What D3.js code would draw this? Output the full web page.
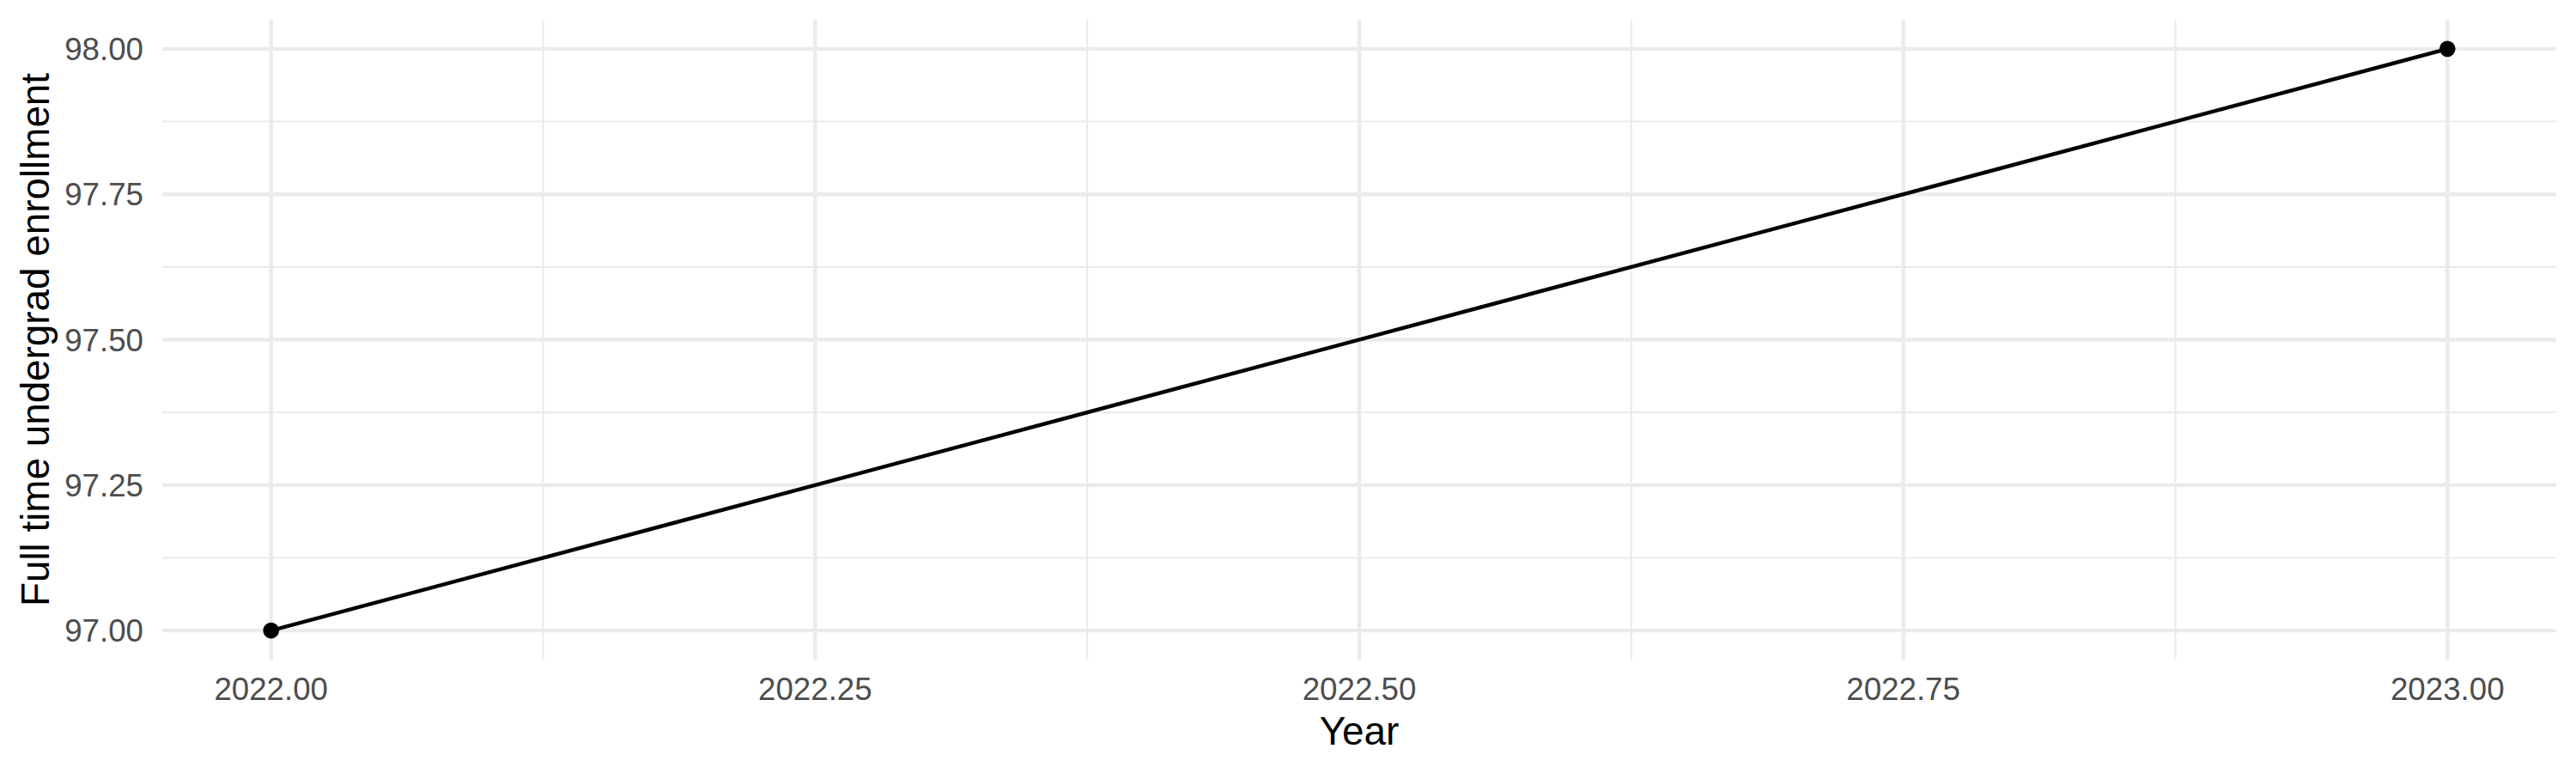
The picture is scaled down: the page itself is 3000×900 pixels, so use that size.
<!DOCTYPE html>
<html>
<head>
<meta charset="utf-8">
<script src="https://cdn.jsdelivr.net/npm/d3@7"></script>
<style>
  html, body { margin: 0; padding: 0; background: #ffffff; }
  svg { display: block; }
</style>
</head>
<body>
<script>
// ---- data ----
const years = [2022, 2023];
const enrollment = [97, 98];
const xTicks = [2022, 2022.25, 2022.5, 2022.75, 2023];
const xMinor = [2022.125, 2022.375, 2022.625, 2022.875];
const yTicks = [97, 97.25, 97.5, 97.75, 98];
const yMinor = [97.125, 97.375, 97.625, 97.875];
const xTitle = "Year";
const yTitle = "Full time undergrad enrollment";

// ---- layout ----
const W = 3000, H = 900;
const panel = { left: 189, right: 2977, top: 23, bottom: 768 };

const svg = d3.select("body").append("svg")
  .attr("width", W).attr("height", H)
  .style("font-family", "'Liberation Sans', Arial, Helvetica, sans-serif");

const xExt = d3.extent(years), yExt = d3.extent(enrollment);
const xPad = (xExt[1] - xExt[0]) * 0.05, yPad = (yExt[1] - yExt[0]) * 0.05;
const x = d3.scaleLinear().domain([xExt[0] - xPad, xExt[1] + xPad]).range([panel.left, panel.right]);
const y = d3.scaleLinear().domain([yExt[0] - yPad, yExt[1] + yPad]).range([panel.bottom, panel.top]);

const grid = svg.append("g");
// minor grid
grid.selectAll(".ymin").data(yMinor).join("line")
  .attr("x1", panel.left).attr("x2", panel.right)
  .attr("y1", d => y(d)).attr("y2", d => y(d))
  .attr("stroke", "#EBEBEB").attr("stroke-width", 2.2);
grid.selectAll(".xmin").data(xMinor).join("line")
  .attr("y1", panel.top).attr("y2", panel.bottom)
  .attr("x1", d => x(d)).attr("x2", d => x(d))
  .attr("stroke", "#EBEBEB").attr("stroke-width", 2.2);
// major grid
grid.selectAll(".ymaj").data(yTicks).join("line")
  .attr("x1", panel.left).attr("x2", panel.right)
  .attr("y1", d => y(d)).attr("y2", d => y(d))
  .attr("stroke", "#EBEBEB").attr("stroke-width", 4.4);
grid.selectAll(".xmaj").data(xTicks).join("line")
  .attr("y1", panel.top).attr("y2", panel.bottom)
  .attr("x1", d => x(d)).attr("x2", d => x(d))
  .attr("stroke", "#EBEBEB").attr("stroke-width", 4.4);

// tick labels
svg.append("g").selectAll("text").data(yTicks).join("text")
  .attr("x", panel.left - 22)
  .attr("y", d => y(d) + 13)
  .attr("text-anchor", "end")
  .attr("font-size", 36.7)
  .attr("fill", "#4D4D4D")
  .text(d => d3.format(".2f")(d));

svg.append("g").selectAll("text").data(xTicks).join("text")
  .attr("x", d => x(d))
  .attr("y", 815)
  .attr("text-anchor", "middle")
  .attr("font-size", 36.7)
  .attr("fill", "#4D4D4D")
  .text(d => d3.format(".2f")(d));

// titles
svg.append("text")
  .attr("x", (panel.left + panel.right) / 2)
  .attr("y", 867)
  .attr("text-anchor", "middle")
  .attr("font-size", 45.8)
  .attr("fill", "#000000")
  .text(xTitle);

svg.append("text")
  .attr("transform", `translate(57, ${(panel.top + panel.bottom) / 2}) rotate(-90)`)
  .attr("text-anchor", "middle")
  .attr("font-size", 45.8)
  .attr("fill", "#000000")
  .text(yTitle);

// data
const pts = years.map((yr, i) => ({ x: yr, y: enrollment[i] }));
svg.append("path")
  .datum(pts)
  .attr("fill", "none")
  .attr("stroke", "#000000")
  .attr("stroke-width", 4.4)
  .attr("d", d3.line().x(d => x(d.x)).y(d => y(d.y)));

svg.append("g").selectAll("circle").data(pts).join("circle")
  .attr("cx", d => x(d.x)).attr("cy", d => y(d.y))
  .attr("r", 9.3)
  .attr("fill", "#000000");
</script>
</body>
</html>
